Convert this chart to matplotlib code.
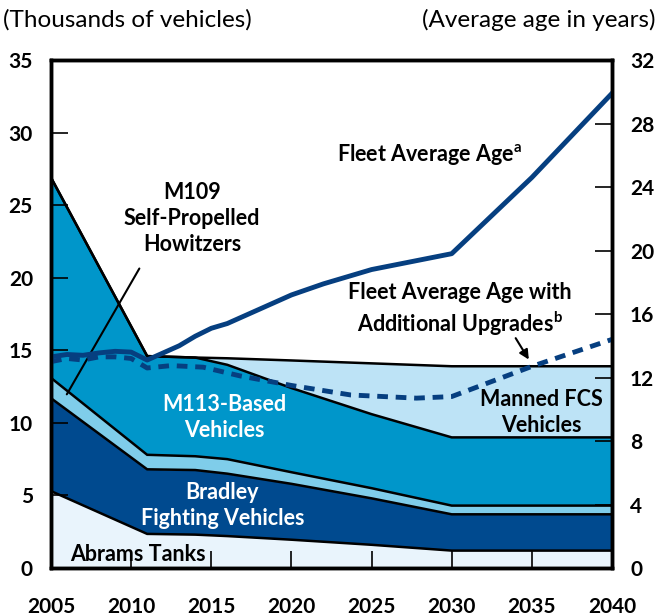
"""
Army combat vehicle fleet size and average age, 2005-2040.

Output:
- out.png
"""

import matplotlib
matplotlib.use("Agg")
import matplotlib.pyplot as plt

plt.rcParams["font.family"] = ["Lato", "DejaVu Sans"]
plt.rcParams["mathtext.fontset"] = "custom"
plt.rcParams["mathtext.rm"] = "Lato:bold"

# fleet composition, thousands of vehicles (cumulative boundaries)
years = [2005, 2011, 2014, 2016, 2020, 2025, 2030, 2040]
abrams = [5.3, 2.35, 2.3, 2.2, 1.95, 1.6, 1.2, 1.2]
bradley_top = [11.7, 6.8, 6.75, 6.5, 5.8, 4.8, 3.7, 3.7]
m109_top = [13.1, 7.8, 7.7, 7.5, 6.6, 5.5, 4.3, 4.3]
m113_top = [26.9, 14.6, 14.5, 14.0, 12.4, 10.6, 9.0, 9.0]
fcs_top = [26.9, 14.6, 14.5, 14.45, 14.3, 14.1, 13.9, 13.9]

# fleet average age, years
age_years = [2005, 2006, 2007, 2008, 2009, 2010, 2011, 2013, 2014, 2015, 2016,
             2018, 2020, 2022, 2024, 2025, 2026, 2028, 2030, 2035, 2040]
age = [13.3, 13.45, 13.4, 13.55, 13.65, 13.6, 13.1, 14.0, 14.6, 15.1, 15.4,
       16.3, 17.2, 17.9, 18.5, 18.8, 19.0, 19.4, 19.8, 24.6, 29.9]

upg_years = [2005, 2006, 2007, 2008, 2009, 2010, 2011, 2012.5, 2014.5, 2016.8,
             2020, 2023.7, 2027.8, 2030, 2035, 2040]
upg_age = [13.0, 13.2, 13.1, 13.3, 13.3, 13.2, 12.6, 12.75, 12.65, 12.1,
           11.5, 10.9, 10.7, 10.8, 12.7, 14.4]

x_ticks = list(range(2005, 2041, 5))
left_ticks = list(range(0, 36, 5))
right_ticks = list(range(0, 33, 4))

c_abrams = "#e9f4fc"
c_bradley = "#004a8f"
c_m109 = "#7fcdea"
c_m113 = "#0096ca"
c_fcs = "#bde3f6"
c_line = "#063f80"

fig = plt.figure(figsize=(6.57, 6.16), dpi=100)
ax = fig.add_axes([0.0776, 0.0779, 0.8539, 0.8247])

ax.fill_between(years, 0, abrams, color=c_abrams, lw=0)
ax.fill_between(years, abrams, bradley_top, color=c_bradley, lw=0)
ax.fill_between(years, bradley_top, m109_top, color=c_m109, lw=0)
ax.fill_between(years, m109_top, m113_top, color=c_m113, lw=0)
ax.fill_between(years, m113_top, fcs_top, color=c_fcs, lw=0)
for top in (abrams, bradley_top, m109_top, m113_top, fcs_top):
    ax.plot(years, top, color="black", lw=1.8, solid_joinstyle="miter")

ax.set_xlim(2005, 2040)
ax.set_ylim(0, 35)
ax.set_xticks(x_ticks)
ax.set_yticks(left_ticks)
ax.tick_params(direction="in", length=12, width=1.2, labelsize=15)
ax.tick_params(axis="x", pad=21)
ax.tick_params(axis="y", pad=13)
for lab in ax.get_xticklabels() + ax.get_yticklabels():
    lab.set_fontweight("bold")

ax2 = ax.twinx()
ax2.plot(upg_years, upg_age, color=c_line, lw=3.5, ls=(0, (2.2, 1.6)))
ax2.plot(age_years, age, color=c_line, lw=3.5)
ax2.set_ylim(0, 32)
ax2.set_yticks(right_ticks)
ax2.tick_params(direction="in", length=12, width=1.2, labelsize=15, pad=13)
for lab in ax2.get_yticklabels():
    lab.set_fontweight("bold")

for a in (ax, ax2):
    for sp in a.spines.values():
        sp.set_linewidth(2.5)

fig.text(0.005, 0.968, "(Thousands of vehicles)", fontsize=17.5, va="center", ha="left")
fig.text(0.997, 0.968, "(Average age in years)", fontsize=17.5, va="center", ha="right")

bold = dict(fontsize=15.5, fontweight="bold", ha="center", va="center", linespacing=1.3)
ax.text(2013.8, 24.1, "M109\nSelf-Propelled\nHowitzers", color="black", **bold)
ax.annotate("", xy=(2005.9, 11.8), xytext=(2010.6, 20.8),
            arrowprops=dict(arrowstyle="-", color="black", lw=1.5))
ax.text(2015.8, 10.4, "M113-Based\nVehicles", color="white", **bold)
ax.text(2015.7, 4.3, "Bradley\nFighting Vehicles", color="white", **bold)
ax.text(2010.4, 0.95, "Abrams Tanks", color="black", **bold)
ax.text(2035.6, 10.7, "Manned FCS\nVehicles", color="black", **bold)
ax.text(2028.6, 28.5, "Fleet Average Age$^{\\mathregular{a}}$", color="black", **bold)
ax.text(2030.5, 17.8, "Fleet Average Age with\nAdditional Upgrades$^{\\mathregular{b}}$",
        color="black", **bold)
ax.annotate("", xy=(2034.9, 14.2), xytext=(2033.9, 16.0),
            arrowprops=dict(arrowstyle="-|>", color="black", lw=1.5, mutation_scale=14))

fig.savefig("out.png", dpi=100)
